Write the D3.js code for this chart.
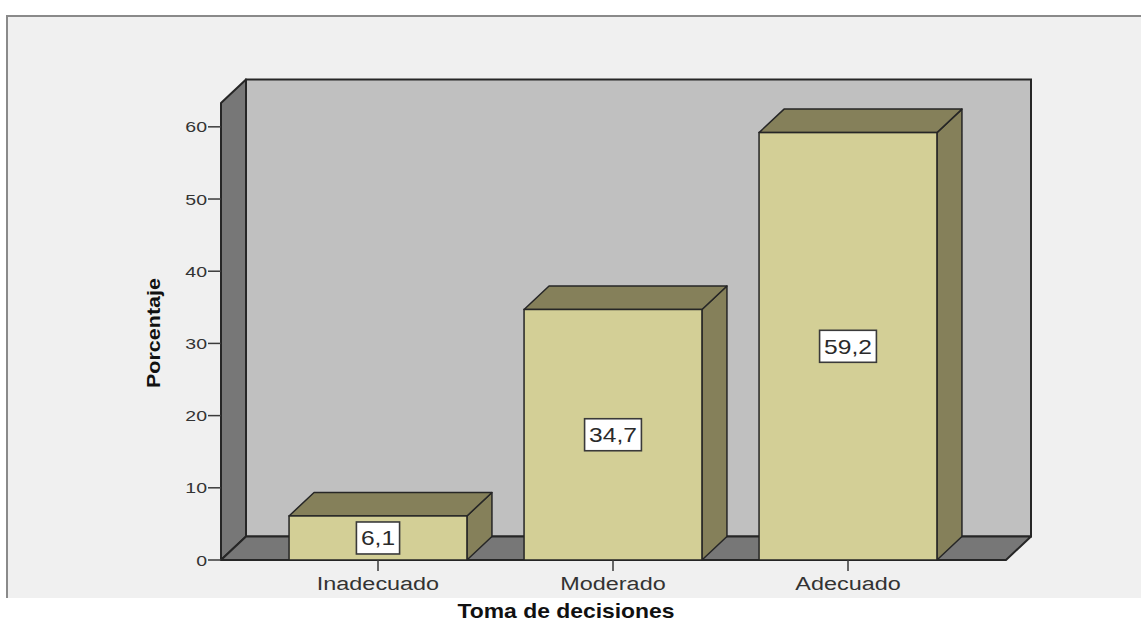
<!DOCTYPE html>
<html>
<head>
<meta charset="utf-8">
<script src="https://cdn.jsdelivr.net/npm/d3@7"></script>
<style>
  html, body { margin: 0; padding: 0; background: #ffffff; }
  svg { display: block; }
</style>
</head>
<body>
<svg id="chart" width="1141" height="622"></svg>
<script>
// ---- data ----
const categories = ["Inadecuado", "Moderado", "Adecuado"];
const percentages = [6.1, 34.7, 59.2];
const valueLabels = ["6,1", "34,7", "59,2"];
const yTicks = [0, 10, 20, 30, 40, 50, 60];
const yTitle = "Porcentaje";
const xTitle = "Toma de decisiones";

// ---- layout ----
const W = 1141, H = 622;
const plotLeft = 221, plotRight = 1006;
const baseY = 560, topY = 103;
const depthX = 25, depthY = 23.5;
const font = "'Liberation Sans', Arial, Helvetica, sans-serif";

const svg = d3.select("#chart");

// outer panel
svg.append("rect").attr("x", 7).attr("y", 16).attr("width", W - 7).attr("height", 598 - 16)
  .attr("fill", "#f0f0f0");
svg.append("path").attr("d", `M7,598 L7,16 L${W},16`)
  .attr("fill", "none").attr("stroke", "#8a8a8a").attr("stroke-width", 2);

const y = d3.scaleLinear().domain([0, 63.3]).range([baseY, topY]);
const x = d3.scaleBand().domain(categories)
  .range([plotLeft + 39.5, plotRight - 40.5])
  .paddingInner(0.243).paddingOuter(0.1215);

const edge = "#262626";

// back wall
svg.append("rect")
  .attr("x", plotLeft + depthX).attr("y", topY - depthY)
  .attr("width", plotRight - plotLeft).attr("height", baseY - topY)
  .attr("fill", "#c0c0c0").attr("stroke", edge).attr("stroke-width", 2);

// left wall
svg.append("polygon")
  .attr("points", [[plotLeft, baseY], [plotLeft, topY], [plotLeft + depthX, topY - depthY], [plotLeft + depthX, baseY - depthY]].join(" "))
  .attr("fill", "#777777").attr("stroke", edge).attr("stroke-width", 2).attr("stroke-linejoin", "round");

// floor
svg.append("polygon")
  .attr("points", [[plotLeft, baseY], [plotRight, baseY], [plotRight + depthX, baseY - depthY], [plotLeft + depthX, baseY - depthY]].join(" "))
  .attr("fill", "#777777").attr("stroke", edge).attr("stroke-width", 2).attr("stroke-linejoin", "round");

// bars
const bw = x.bandwidth();
const bars = svg.append("g").selectAll("g").data(categories.map((c, i) => ({ c, v: percentages[i], lab: valueLabels[i] })))
  .join("g");

bars.append("polygon") // side
  .attr("points", d => {
    const x0 = x(d.c) + bw, yv = y(d.v);
    return [[x0, yv], [x0 + depthX, yv - depthY], [x0 + depthX, baseY - depthY], [x0, baseY]].join(" ");
  })
  .attr("fill", "#85805a").attr("stroke", edge).attr("stroke-width", 1.5).attr("stroke-linejoin", "round");

bars.append("polygon") // top
  .attr("points", d => {
    const x0 = x(d.c), yv = y(d.v);
    return [[x0, yv], [x0 + depthX, yv - depthY], [x0 + bw + depthX, yv - depthY], [x0 + bw, yv]].join(" ");
  })
  .attr("fill", "#85805a").attr("stroke", edge).attr("stroke-width", 1.5).attr("stroke-linejoin", "round");

bars.append("rect") // front
  .attr("x", d => x(d.c)).attr("y", d => y(d.v))
  .attr("width", bw).attr("height", d => baseY - y(d.v))
  .attr("fill", "#d3cf96").attr("stroke", edge).attr("stroke-width", 1.5);

// value labels
bars.each(function (d) {
  const g = d3.select(this);
  const cx = x(d.c) + bw / 2;
  const cy = (y(d.v) + baseY) / 2;
  const t = g.append("text")
    .attr("x", cx).attr("y", cy + 7.5)
    .attr("text-anchor", "middle")
    .attr("font-family", font).attr("font-size", 21).attr("fill", "#2a2a2a")
    .text(d.lab);
  const tl = t.node().getComputedTextLength() * 1.17;
  t.attr("textLength", tl).attr("lengthAdjust", "spacingAndGlyphs");
  g.insert("rect", "text")
    .attr("x", cx - tl / 2 - 4.5).attr("y", cy - 16)
    .attr("width", tl + 9).attr("height", 32)
    .attr("fill", "#ffffff").attr("stroke", "#3a3a3a").attr("stroke-width", 1.6);
});

// y axis ticks and labels
const yAxisG = svg.append("g");
yAxisG.selectAll("line").data(yTicks).join("line")
  .attr("x1", plotLeft - 13).attr("x2", plotLeft)
  .attr("y1", d => y(d)).attr("y2", d => y(d))
  .attr("stroke", "#3a3a3a").attr("stroke-width", 1.5);
yAxisG.selectAll("text").data(yTicks).join("text")
  .attr("x", plotLeft - 14).attr("y", d => y(d) + 5.5)
  .attr("text-anchor", "end")
  .attr("font-family", font).attr("font-size", 15).attr("fill", "#333333")
  .text(d => d)
  .each(function () {
    const l = this.getComputedTextLength() * 1.3;
    d3.select(this).attr("textLength", l).attr("lengthAdjust", "spacingAndGlyphs");
  });

// x axis ticks and labels
const xAxisG = svg.append("g");
xAxisG.selectAll("line").data(categories).join("line")
  .attr("x1", d => x(d) + bw / 2).attr("x2", d => x(d) + bw / 2)
  .attr("y1", baseY).attr("y2", baseY + 11)
  .attr("stroke", "#3a3a3a").attr("stroke-width", 1.5);
xAxisG.selectAll("text").data(categories).join("text")
  .attr("x", d => x(d) + bw / 2).attr("y", 590)
  .attr("text-anchor", "middle")
  .attr("font-family", font).attr("font-size", 18).attr("fill", "#333333")
  .text(d => d)
  .each(function () {
    const l = this.getComputedTextLength() * 1.3;
    d3.select(this).attr("textLength", l).attr("lengthAdjust", "spacingAndGlyphs");
  });

// axis titles
const yt = svg.append("text")
  .attr("transform", `translate(160,333) rotate(-90)`)
  .attr("text-anchor", "middle")
  .attr("font-family", font).attr("font-size", 18).attr("font-weight", "bold").attr("fill", "#111111")
  .text(yTitle);
yt.attr("textLength", 110).attr("lengthAdjust", "spacingAndGlyphs");

svg.append("text")
  .attr("x", 566).attr("y", 618)
  .attr("text-anchor", "middle")
  .attr("font-family", font).attr("font-size", 21).attr("font-weight", "bold").attr("fill", "#111111")
  .attr("textLength", 217).attr("lengthAdjust", "spacingAndGlyphs")
  .text(xTitle);
</script>
</body>
</html>
